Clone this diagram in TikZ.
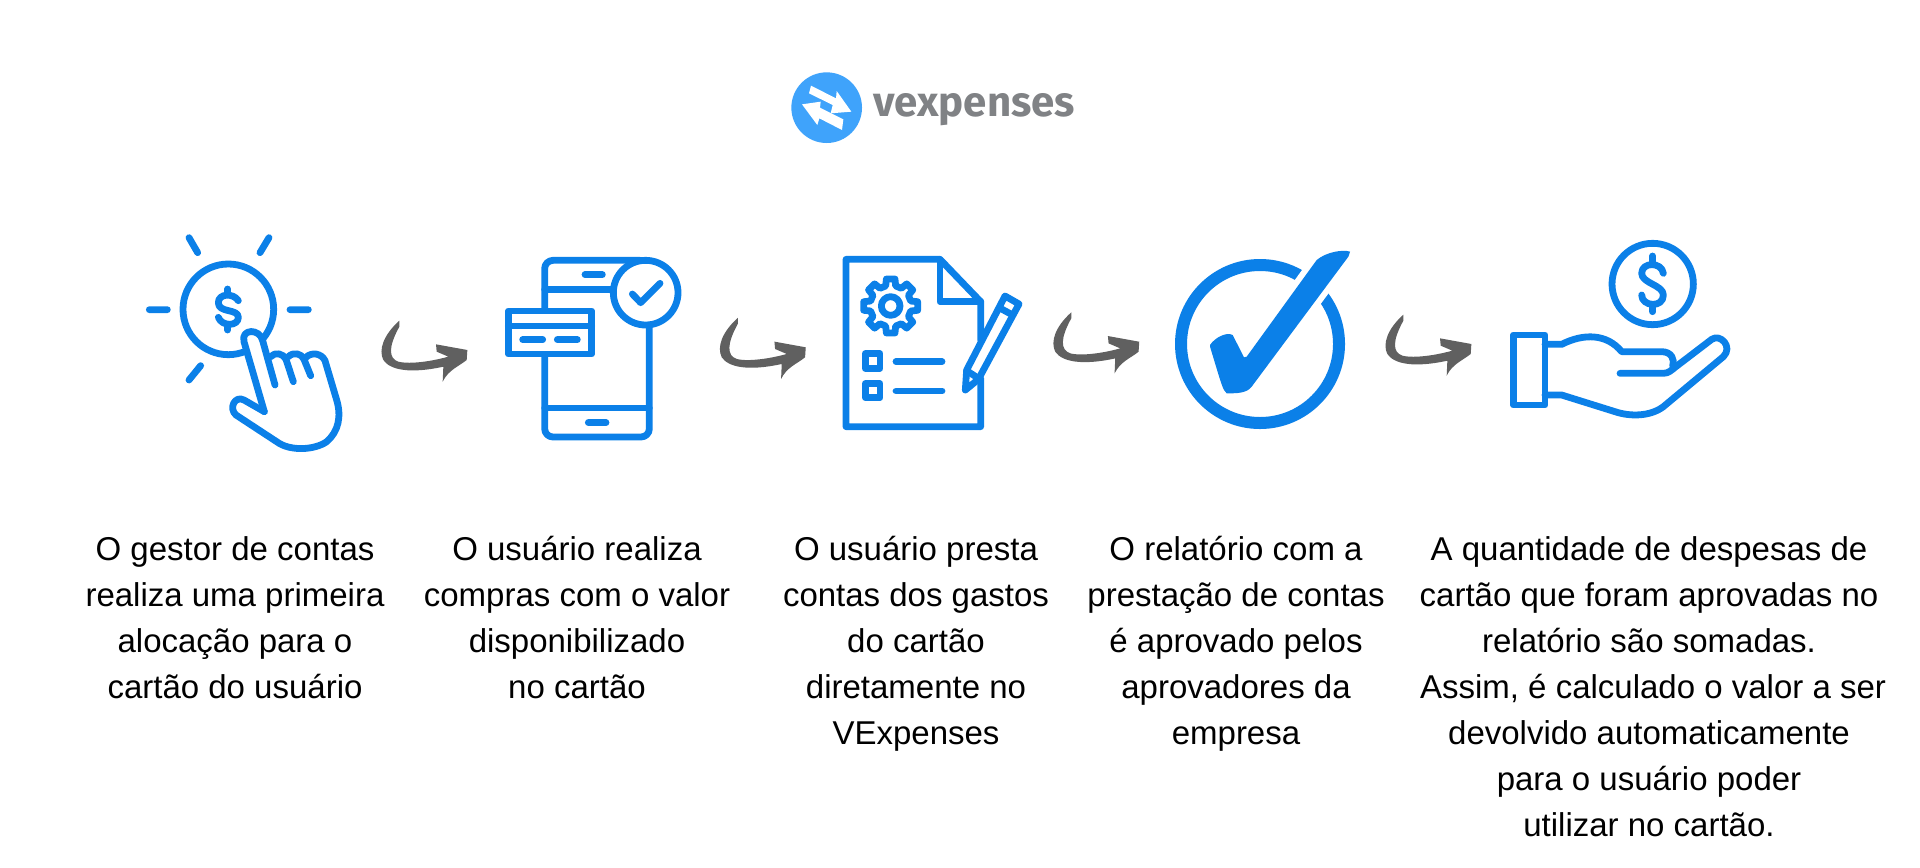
\documentclass[tikz,border=0pt]{standalone}
\usepackage{fontspec}
\setmainfont{Liberation Sans}
\newfontfamily\logofont{Fira Sans}
\definecolor{iconblue}{HTML}{0B80E8}
\definecolor{brush}{HTML}{606060}
\definecolor{logoblue}{HTML}{3FA3FB}
\definecolor{logogray}{HTML}{808285}
\tikzset{
 line/.style={draw=iconblue,line width=3.4pt,line cap=round,line join=round},
 caption/.style={align=center,inner sep=0pt,font=\fontsize{16.5}{23}\selectfont,text=black,anchor=north},
 zoomed/.style={x=0.16667pt,y=-0.16667pt},
}
\newcommand{\brusharrow}[2]{%
 \fill[brush,shift={(#1,#2)},zoomed] (838,332) .. controls (790,375) and (775,420) .. (790,450) .. controls (810,480) and (870,492) .. (970,470) -- (968,515) .. controls (985,480) and (1015,470) .. (1040,450) -- (1042,420) -- (948,403) -- (950,425) -- (985,440) .. controls (920,458) and (860,462) .. (835,455) .. controls (805,445) and (805,410) .. (838,350) -- cycle;}
\begin{document}
\begin{tikzpicture}[x=0.5pt,y=-0.5pt]
\useasboundingbox (0,0) rectangle (1920,867);
\fill[white] (0,0) rectangle (1920,867);
% logo
\begin{scope}[shift={(780,60)},zoomed]
\fill[logoblue] (140,143) circle (106);
\fill[white] (93,77) -- (168,115) -- (170,93) -- (214,155) -- (152,160) -- (158,135) -- (87,100) -- cycle;
\fill[white] (66,133) -- (122,125) -- (120,143) -- (190,178) -- (186,210) -- (118,175) -- (112,195) -- cycle;
\end{scope}
\node[inner sep=0pt,anchor=west,text=logogray,font=\logofont\bfseries\fontsize{21}{21}\selectfont] (logo) at (873,110) {vexpenses};
% icon 1
\begin{scope}[shift={(120,210)},zoomed]
\draw[line] (325,298) circle (136);
\draw[line] (207,83) -- (233,128) (447,83) -- (420,128) (88,299) -- (142,299) (510,299) -- (565,299) (242,467) -- (207,510);
\draw[line] (323,237) -- (323,254) (323,344) -- (323,360);
\draw[line] (355,272) .. controls (340,248) and (295,250) .. (295,278) .. controls (295,310) and (355,295) .. (355,322) .. controls (355,350) and (305,350) .. (295,322);
\fill[white] (433,605) -- (372,395) .. controls (362,355) and (420,355) .. (428,392) -- (465,525) -- cycle;
\draw[line] (433,605) -- (372,395) .. controls (362,355) and (420,355) .. (428,392) -- (465,525);
\draw[line] (452,440) .. controls (465,425) and (490,430) .. (498,448) -- (520,515);
\draw[line] (505,440) .. controls (520,425) and (545,430) .. (552,448) -- (572,497);
\draw[line] (558,442) .. controls (575,425) and (605,430) .. (615,452) -- (650,570) .. controls (665,620) and (655,665) .. (620,695) .. controls (585,720) and (510,725) .. (470,695) -- (348,615) .. controls (325,595) and (345,555) .. (372,570) -- (433,605);
\end{scope}
\brusharrow{120}{210}
% icon 2
\begin{scope}[shift={(480,230)},zoomed]
\draw[line] (508,285) -- (508,596) arc (0:90:25) -- (219,621) arc (90:180:25) -- (194,116) arc (180:270:25) -- (480,91);
\draw[line] (194,178) -- (400,178) (194,534) -- (508,534) (315,134) -- (367,134) (325,578) -- (378,578);
\draw[line,fill=white] (497,188) circle (97);
\draw[line] (457,192) -- (482,218) -- (540,160);
\draw[line,fill=white] (85,243) rectangle (335,372);
\draw[line] (85,288) -- (335,288) (128,329) -- (188,329) (232,329) -- (292,329);
\end{scope}
\brusharrow{458.4}{207.3}
% icon 3
\begin{scope}[shift={(820,240)},zoomed]
\draw[line] (482,300) -- (482,185) -- (360,58) -- (78,58) -- (78,560) -- (482,560) -- (482,415);
\draw[line] (360,58) -- (360,185) -- (482,185);
\draw[line,shift={(212,198)}] (-14:62) \foreach \a in {0,45,...,315} { -- (\a-14:62) -- (\a-9:82) -- (\a+9:82) -- (\a+14:62) } -- cycle;
\draw[line] (212,198) circle (28);
\draw[line] (136,341) rectangle (180,385) (136,431) rectangle (180,473);
\draw[line] (228,365) -- (366,365) (228,453) -- (366,453);
\draw[line,fill=white] (555,168) -- (597,192) -- (475,418) -- (436,450) -- (440,390) -- cycle;
\draw[line] (541,205) -- (578,225) (440,392) -- (475,415);
\end{scope}
\brusharrow{791.9}{201.7}
% icon 4
\begin{scope}[shift={(1040,230)},zoomed]
\draw[iconblue,line width=6pt] (660,342) circle (237);
\path[draw=white,line width=6pt,fill=iconblue,line join=round] (510,345) .. controls (525,322) and (560,305) .. (578,315) -- (612,382) -- (620,380) -- (830,90) .. controls (860,65) and (910,58) .. (930,65) -- (925,80) -- (635,470) .. controls (620,490) and (590,490) .. (560,490) .. controls (548,480) and (545,465) .. (510,350) -- cycle;
\fill[iconblue,line join=round] (510,345) .. controls (525,322) and (560,305) .. (578,315) -- (612,382) -- (620,380) -- (830,90) .. controls (860,65) and (910,58) .. (930,65) -- (925,80) -- (635,470) .. controls (620,490) and (590,490) .. (560,490) .. controls (548,480) and (545,465) .. (510,350) -- cycle;
\end{scope}
\brusharrow{1124}{204}
% icon 5
\begin{scope}[shift={(1370,220)},zoomed]
\draw[line] (848,192) circle (122);
\draw[line] (848,108) -- (848,128) (848,255) -- (848,275);
\draw[line] (880,160) .. controls (875,125) and (815,125) .. (815,160) .. controls (815,190) and (880,195) .. (880,225) .. controls (880,265) and (815,260) .. (815,225);
\draw[line] (430,345) rectangle (525,555);
\draw[line] (525,373) -- (575,373) .. controls (640,340) and (710,340) .. (755,395) -- (875,395) .. controls (905,395) and (915,420) .. (908,438);
\draw[line] (750,460) -- (880,460) .. controls (895,460) and (905,450) .. (915,442) -- (1025,358) .. controls (1050,340) and (1090,380) .. (1060,410) -- (880,560) .. controls (840,590) and (780,590) .. (735,575) -- (575,525) -- (525,525);
\end{scope}
% captions
\node[caption] (t1) at (235,536) {O gestor de contas\\realiza uma primeira\\alocação para o\\cartão do usuário};
\node[caption] (t2) at (577,536) {O usuário realiza\\compras com o valor\\disponibilizado\\no cartão};
\node[caption] (t3) at (916,536) {O usuário presta\\contas dos gastos\\do cartão\\diretamente no\\VExpenses};
\node[caption] (t4) at (1236,536) {O relatório com a\\prestação de contas\\é aprovado pelos\\aprovadores da\\empresa};
\node[caption] (t5) at (1649,536) {A quantidade de despesas de\\cartão que foram aprovadas no\\relatório são somadas.\\\hspace*{4pt}Assim, é calculado o valor a ser\\devolvido automaticamente\\para o usuário poder\\utilizar no cartão.};
\end{tikzpicture}
\end{document}
